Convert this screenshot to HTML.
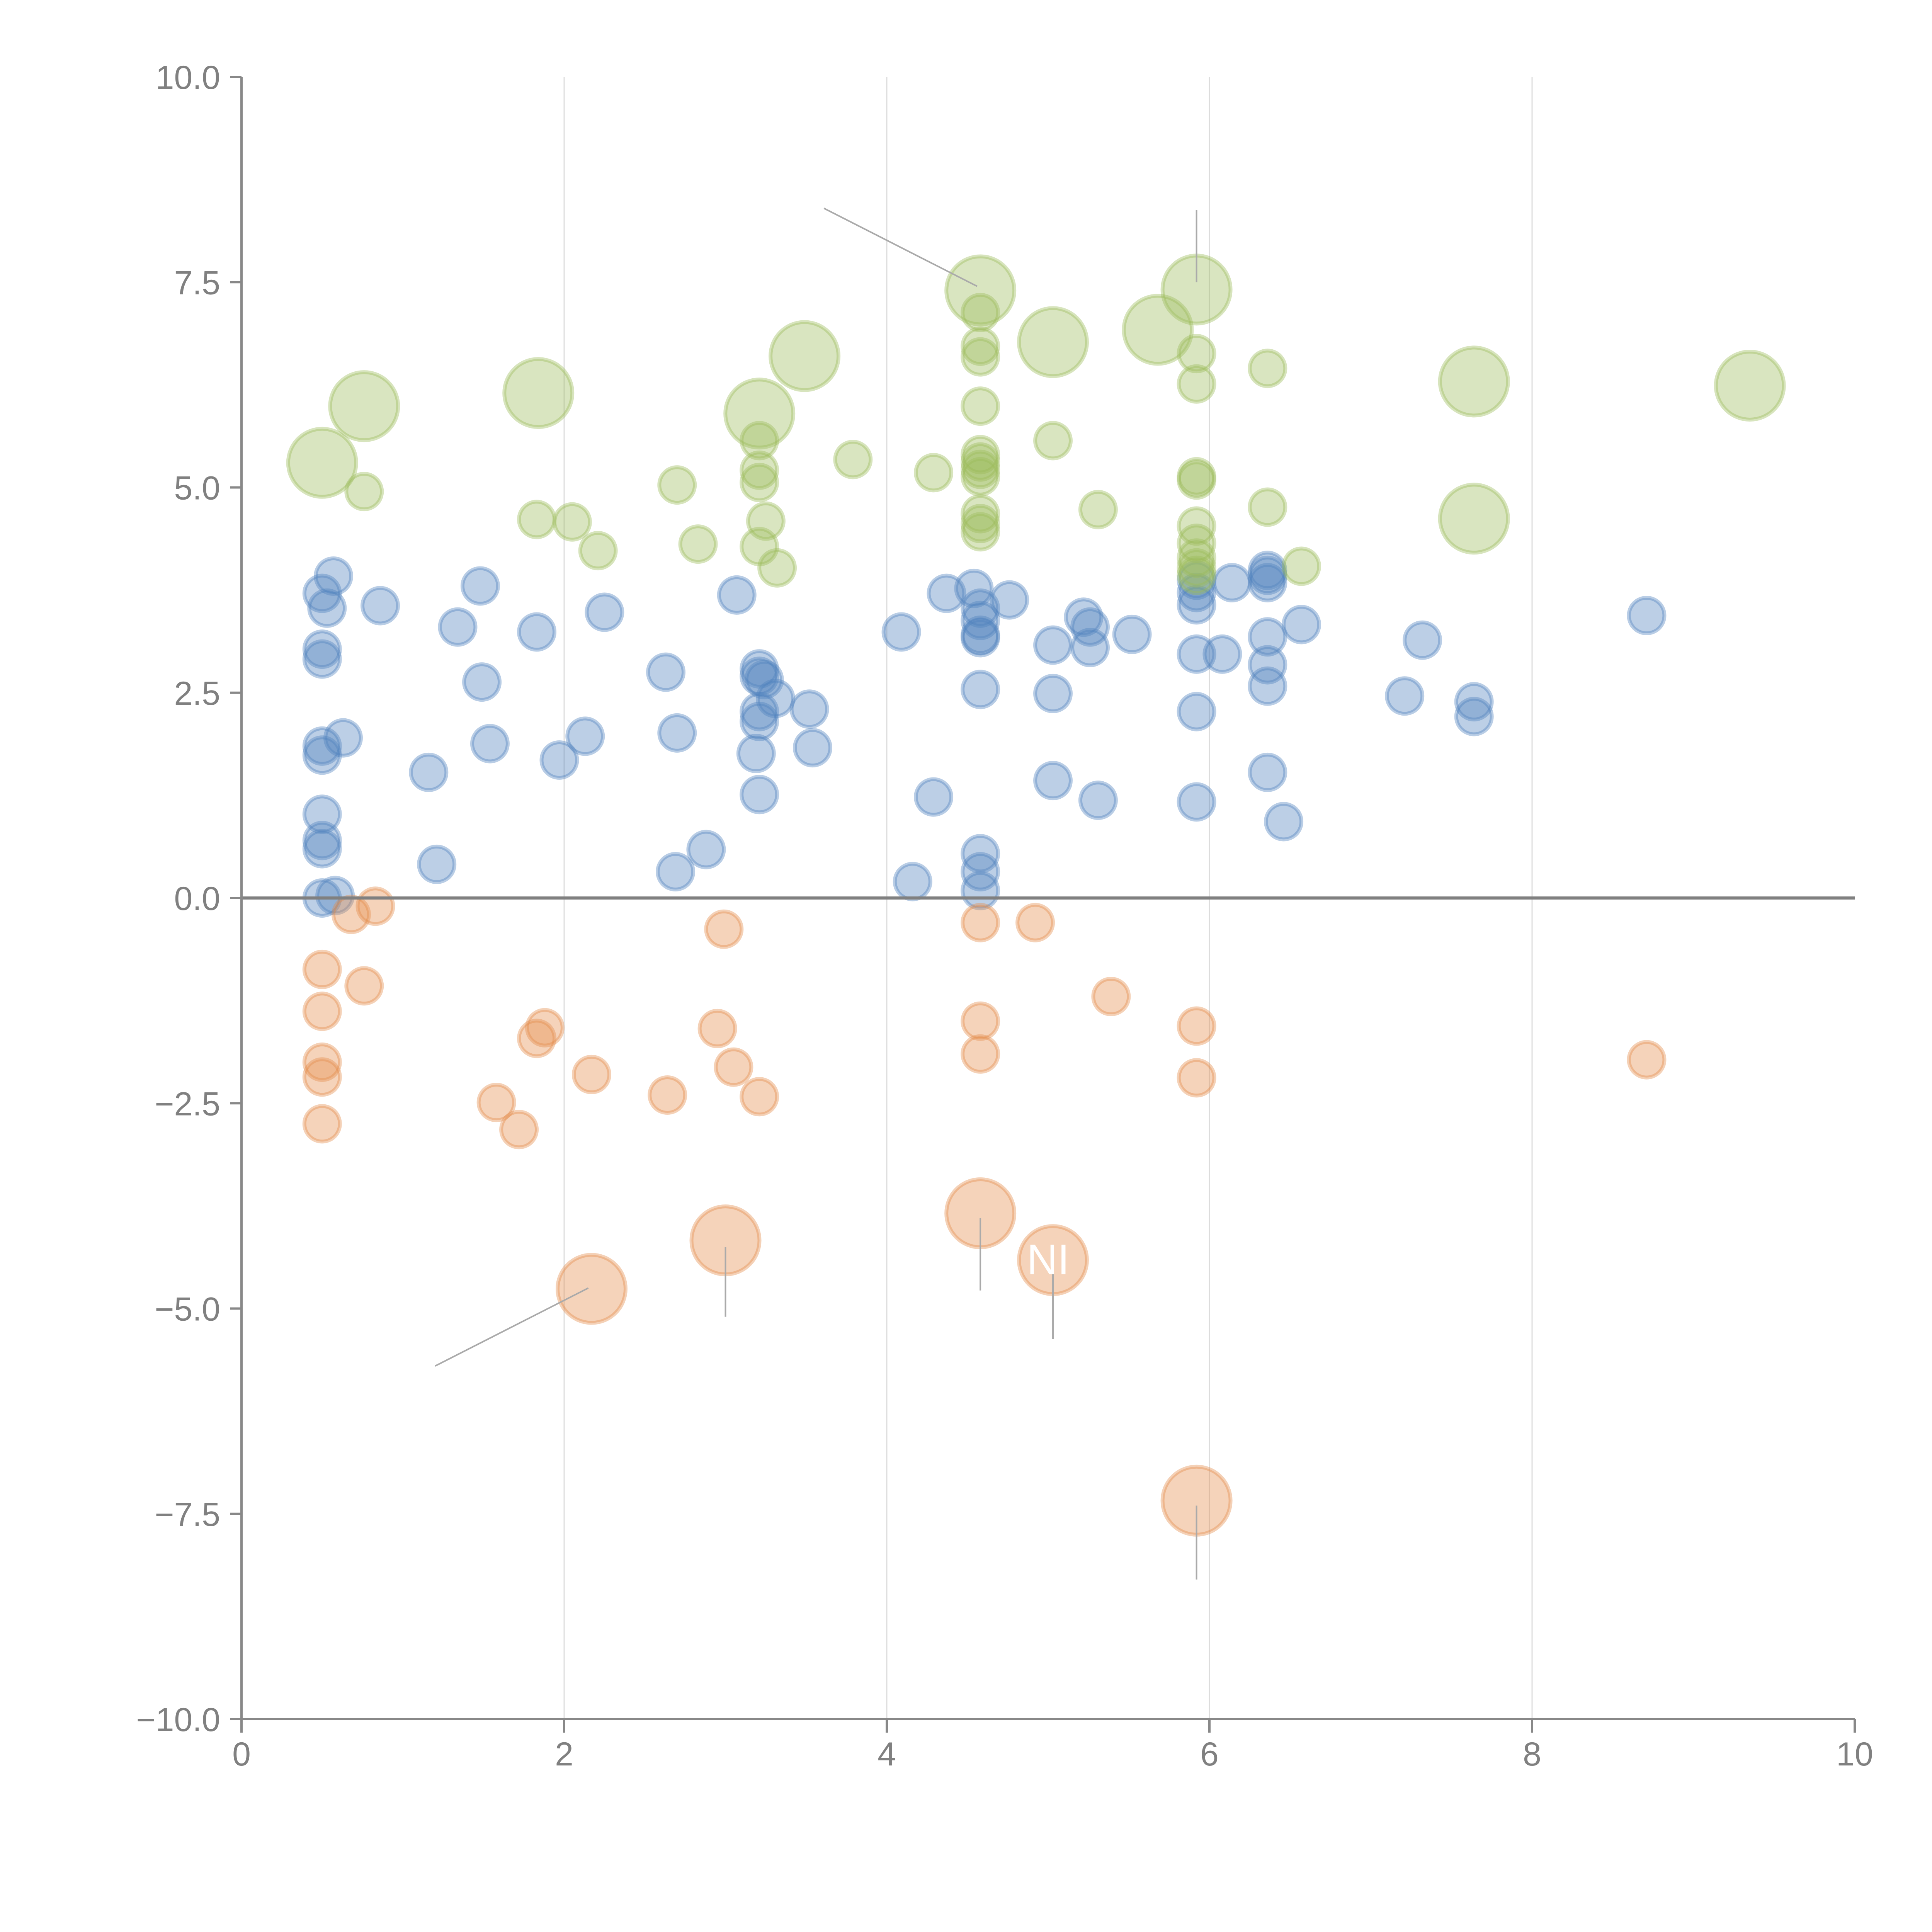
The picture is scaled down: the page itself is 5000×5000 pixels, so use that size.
<!DOCTYPE html>
<html><head><meta charset="utf-8"><style>html,body{margin:0;padding:0;background:#fff}svg{display:block}</style></head>
<body>
<svg id="chart" width="5000" height="5000" viewBox="0 0 5000 5000" xmlns="http://www.w3.org/2000/svg" font-family="Liberation Sans, sans-serif">
<g id="grid"></g>
<g id="marks"></g>
<g id="axes"></g>
</svg>
<script>
const xTicks=[0,2,4,6,8,10];
const yTicks=[10,7.5,5,2.5,0,-2.5,-5,-7.5,-10];
const yTickLabels=["10.0","7.5","5.0","2.5","0.0","\u22122.5","\u22125.0","\u22127.5","\u221210.0"];
const blueX=[.5,.57,.53,.86,.5,.5,.63,.5,.5,.5,.5,.5,.5,.58,1.21,1.16,1.34,1.48,1.49,1.54,1.83,1.97,2.13,2.25,2.63,2.7,2.69,2.88,3.07,3.21,3.21,3.24,3.31,3.21,3.21,3.19,3.21,3.52,3.54,4.09,4.29,4.16,4.37,4.54,4.58,4.58,4.58,4.58,4.76,4.58,4.58,4.58,4.58,5.03,5.03,5.03,5.22,5.26,5.26,5.31,5.52,5.92,5.92,5.92,5.92,5.92,5.92,6.08,6.14,6.36,6.36,6.36,6.36,6.36,6.36,6.36,6.46,6.57,7.21,7.32,7.64,7.64,8.71];
const blueY=[3.71,3.92,3.53,3.56,3.03,2.91,1.95,1.85,1.74,1.02,.7,.6,0,.03,.41,1.53,3.3,3.8,2.63,1.88,3.24,1.68,1.97,3.48,2.75,2.01,.32,.59,3.69,2.79,2.7,2.66,2.43,2.27,2.15,1.76,1.26,2.3,1.83,3.24,1.23,.2,3.71,3.77,3.53,3.38,3.2,3.17,3.63,2.54,.54,.32,.09,3.08,2.49,1.43,3.42,3.3,3.05,1.19,3.21,3.72,3.57,3.87,2.97,2.27,1.17,2.97,3.84,3.99,3.93,3.84,3.18,2.84,2.58,1.53,.93,3.33,2.46,3.14,2.39,2.21,3.44];
const orangeX=[.68,.83,.5,.5,.5,.5,.5,.76,1.58,1.72,1.83,1.88,2.17,2.64,2.99,2.95,3.05,3.21,4.58,4.92,4.58,4.58,5.39,5.92,5.92,8.71];
const orangeY=[-.2,-.1,-.87,-1.38,-2.0,-2.18,-2.75,-1.07,-2.49,-2.82,-1.71,-1.58,-2.15,-2.4,-.38,-1.59,-2.06,-2.42,-.3,-.3,-1.5,-1.9,-1.2,-1.56,-2.19,-1.97];
const orangeBigX=[2.17,3.0,4.58,5.03,5.92];
const orangeBigY=[-4.76,-4.17,-3.84,-4.41,-7.34];
const greenX=[.76,1.83,2.05,2.21,2.7,2.83,3.21,3.21,3.21,3.21,3.25,3.32,3.79,4.29,4.58,4.58,4.58,4.58,4.58,4.58,4.58,4.58,4.58,4.58,4.58,5.03,5.31,5.92,5.92,5.92,5.92,5.92,5.92,5.92,5.92,5.92,6.36,6.36,6.57];
const greenY=[4.95,4.61,4.58,4.23,5.03,4.31,5.57,5.21,5.06,4.28,4.59,4.02,5.34,5.18,7.13,6.72,6.59,5.99,5.4,5.31,5.22,5.13,4.68,4.56,4.46,5.57,4.73,6.63,6.26,5.13,5.09,4.53,4.32,4.14,4.02,3.93,6.45,4.76,4.04];
const greenBigX=[.5,.76,1.84,3.21,3.49,4.58,5.03,5.68,5.92,7.64,7.64,9.35];
const greenBigY=[5.3,5.99,6.15,5.9,6.6,7.4,6.77,6.92,7.41,6.29,4.62,6.24];
const leaderX1=[3.61,5.92,1.2,3.0,4.58,5.03,5.92];
const leaderY1=[8.4,8.38,-5.7,-4.25,-3.9,-4.45,-7.4];
const leaderX2=[4.56,5.92,2.15,3.0,4.58,5.03,5.92];
const leaderY2=[7.45,7.5,-4.75,-5.1,-4.78,-5.37,-8.3];

const NS="http://www.w3.org/2000/svg";
const X=v=>625+v*417.5;
const Y=v=>2324-v*212.5;
function mk(tag,attrs,parent){const e=document.createElementNS(NS,tag);for(const k in attrs)e.setAttribute(k,attrs[k]);parent.appendChild(e);return e;}
const grid=document.getElementById('grid'),marks=document.getElementById('marks'),axes=document.getElementById('axes');
xTicks.forEach(t=>{if(t===0||t===10)return;const l=mk('line',{x1:X(t),x2:X(t),y1:Y(10),y2:Y(-10),stroke:'#dcdcdc','stroke-width':3},grid);

});
function series(xs,ys,r,color,name){xs.forEach((x,i)=>{const c=mk('circle',{cx:X(x),cy:Y(ys[i]),r:r,fill:color,'fill-opacity':0.38,stroke:color,'stroke-opacity':0.4,'stroke-width':10},marks);

});}
series(blueX,blueY,46,'rgb(79,129,189)','blue-bubble');
series(orangeX,orangeY,46,'rgb(228,140,74)','orange-bubble');
series(orangeBigX,orangeBigY,88,'rgb(228,140,74)','orange-large-bubble');
series(greenX,greenY,46,'rgb(155,187,89)','green-bubble');
series(greenBigX,greenBigY,88,'rgb(155,187,89)','green-large-bubble');
leaderX1.forEach((x,i)=>{const l=mk('line',{x1:X(x),y1:Y(leaderY1[i]),x2:X(leaderX2[i]),y2:Y(leaderY2[i]),stroke:'#aaa','stroke-width':4},marks);

});
const ni=mk('text',{x:X(5.0),y:Y(-4.58),'font-size':110,fill:'#fff','text-anchor':'middle'},marks);ni.textContent='NI';


const z=mk('line',{x1:X(0),x2:X(10),y1:Y(0),y2:Y(0),stroke:'#808080','stroke-width':8},axes);


const ya=mk('line',{x1:X(0),x2:X(0),y1:Y(10),y2:Y(-10)+35,stroke:'#888','stroke-width':6},axes);


const xa=mk('line',{x1:X(0)-30,x2:X(10),y1:Y(-10),y2:Y(-10),stroke:'#888','stroke-width':6},axes);


yTicks.forEach((t,i)=>{const tk=mk('line',{x1:X(0)-30,x2:X(0),y1:Y(t),y2:Y(t),stroke:'#888','stroke-width':6},axes);


const tx=mk('text',{x:X(0)-55,y:Y(t)+31,'font-size':86,fill:'#808080','text-anchor':'end'},axes);tx.textContent=yTickLabels[i];

});
xTicks.forEach(t=>{const tk=mk('line',{x1:X(t),x2:X(t),y1:Y(-10),y2:Y(-10)+35,stroke:'#888','stroke-width':6},axes);


const tx=mk('text',{x:X(t),y:Y(-10)+120,'font-size':86,fill:'#808080','text-anchor':'middle'},axes);tx.textContent=String(t);

});
</script>
</body></html>
